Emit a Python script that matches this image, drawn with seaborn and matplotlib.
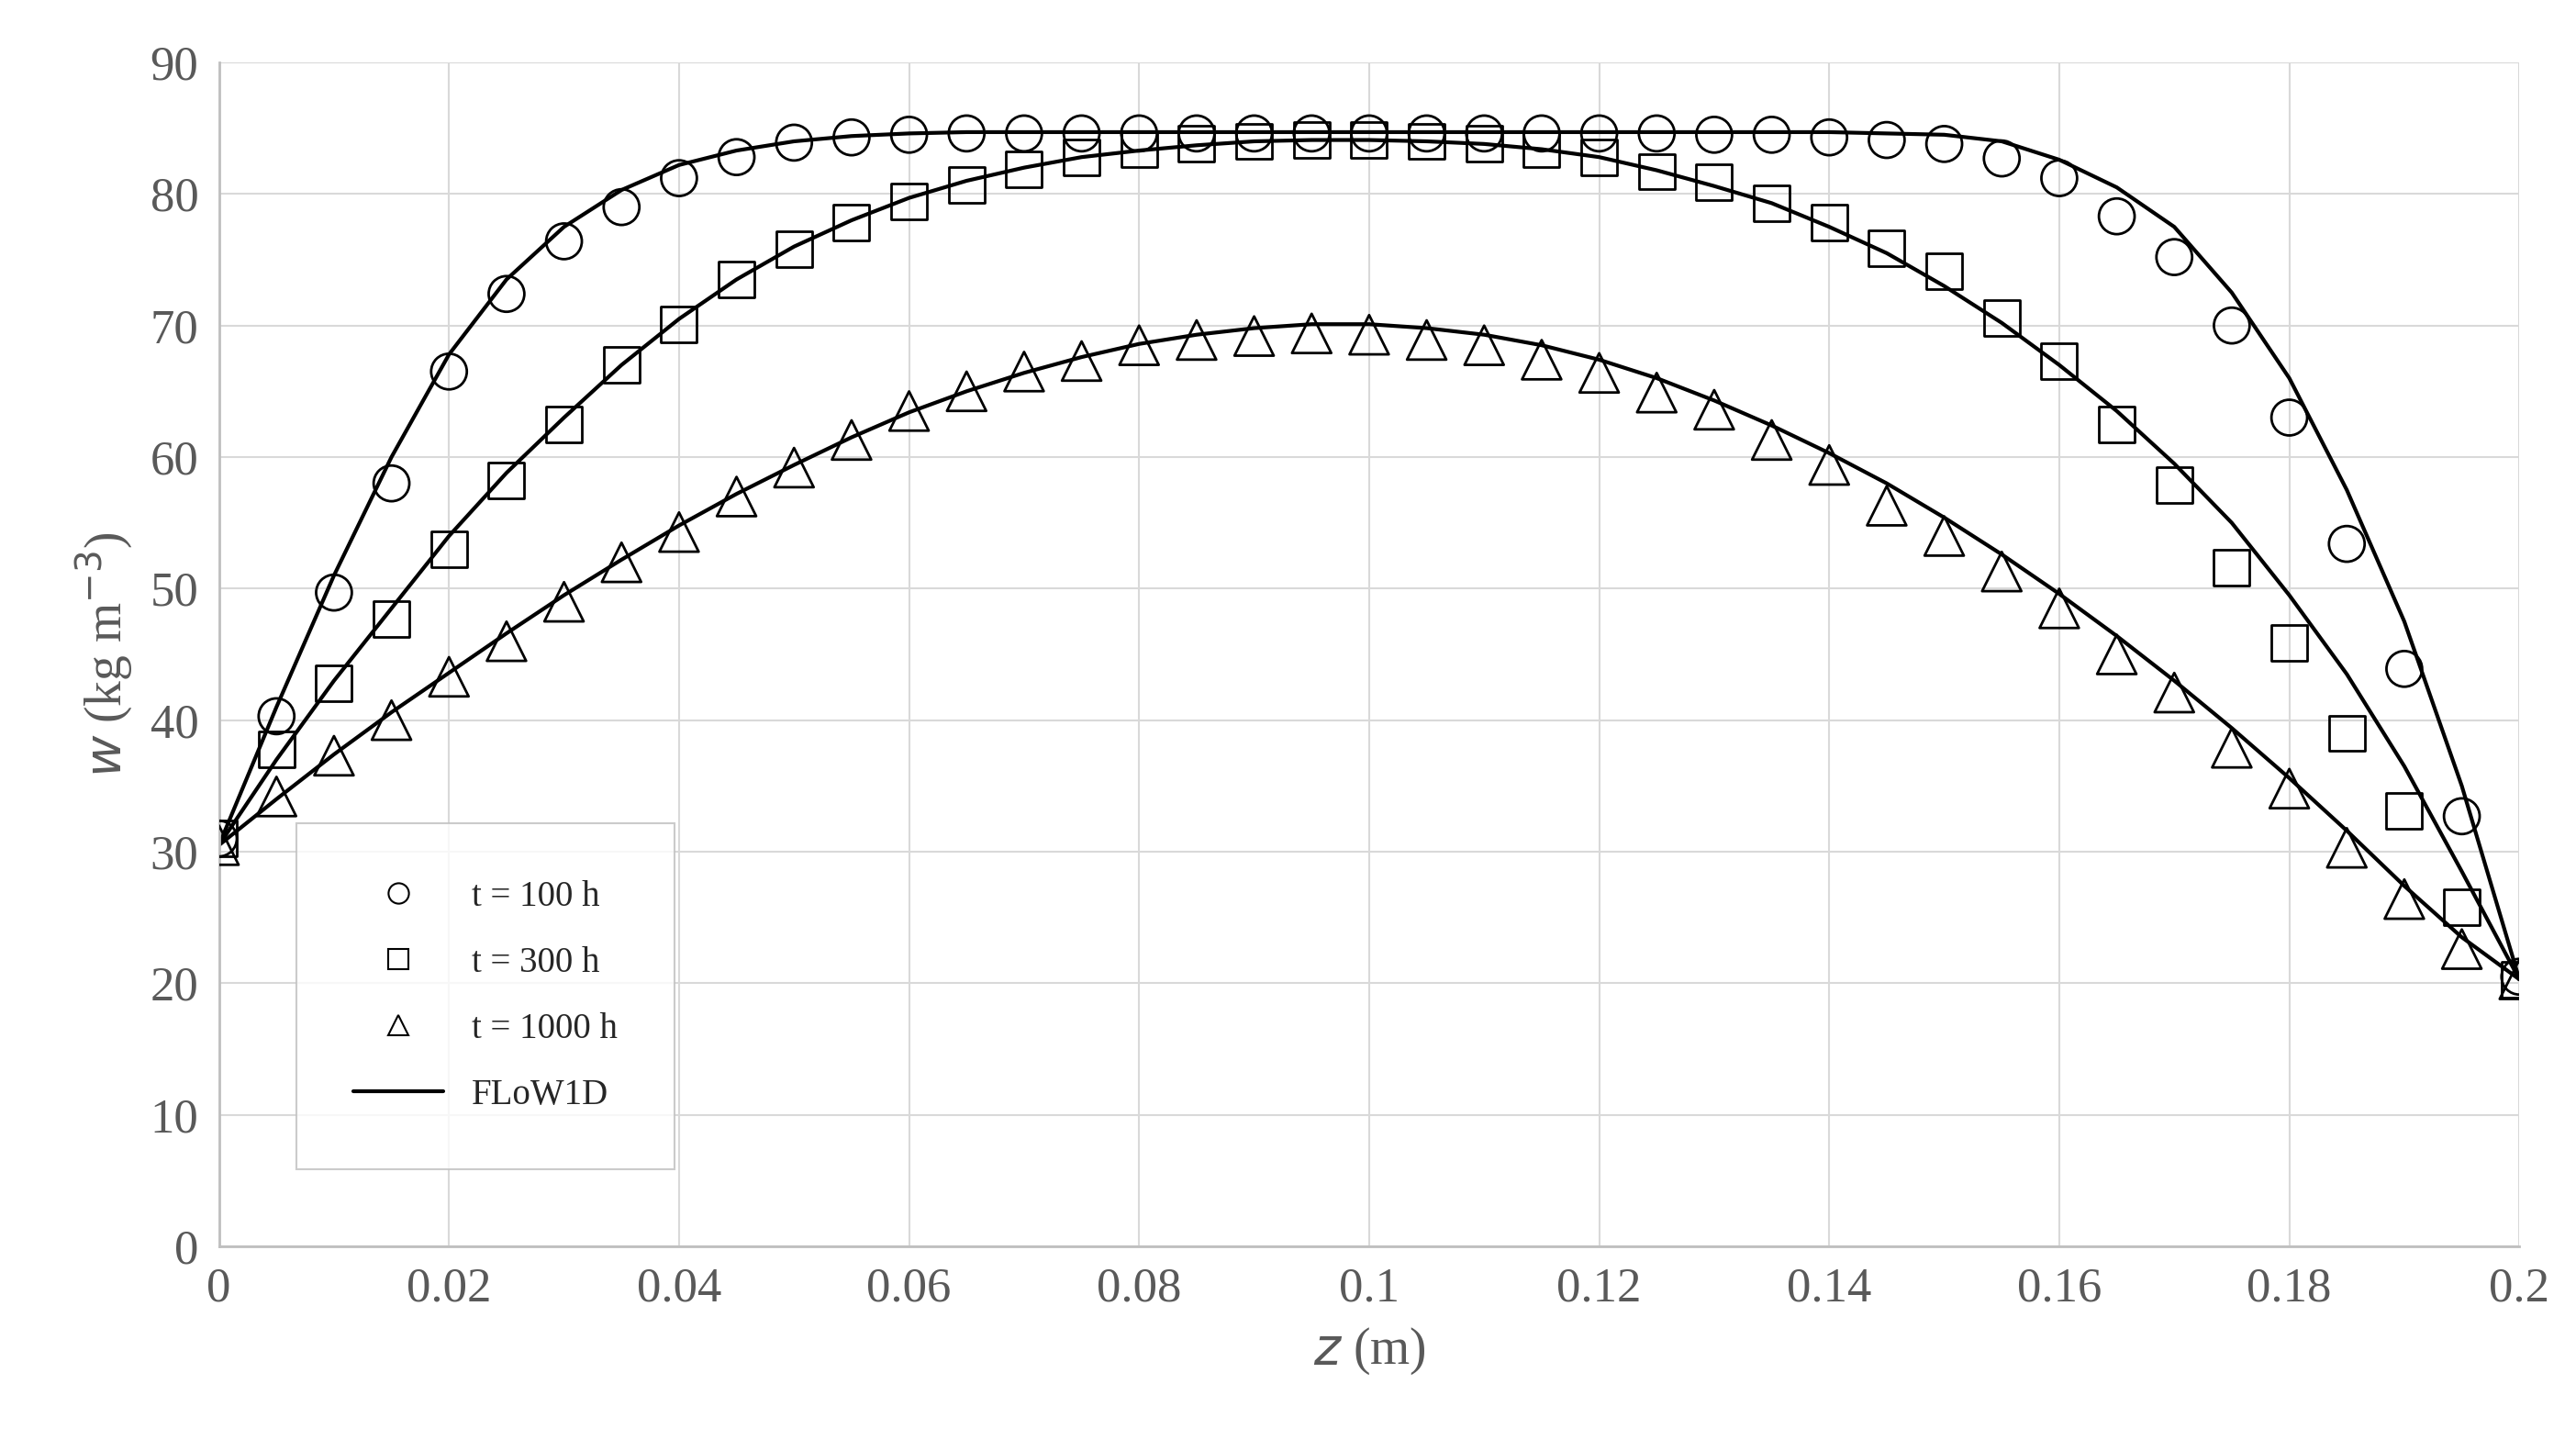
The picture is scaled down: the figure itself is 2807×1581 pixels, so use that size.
import matplotlib
matplotlib.use("Agg")
import matplotlib.pyplot as plt
import seaborn as sns
import numpy as np
import pandas as pd

z_pts = [round(0.005*i, 3) for i in range(41)]
w_100 = [31, 40.3, 49.7, 58, 66.5, 72.4, 76.4, 79, 81.2, 82.8, 83.9, 84.3, 84.5, 84.6, 84.6, 84.6, 84.6, 84.6, 84.6, 84.6,
         84.6, 84.6, 84.6, 84.6, 84.6, 84.6, 84.5, 84.5, 84.3, 84.1, 83.8, 82.7, 81.2, 78.3, 75.2, 70, 63, 53.4, 43.9, 32.7, 20.5]
w_300 = [31, 37.8, 42.8, 47.7, 53, 58.2, 62.5, 67, 70.1, 73.5, 75.8, 77.8, 79.4, 80.7, 81.9, 82.8, 83.4, 83.8, 84, 84.1,
         84.1, 84, 83.8, 83.4, 82.8, 81.7, 80.9, 79.3, 77.8, 75.9, 74.1, 70.6, 67.3, 62.5, 57.9, 51.6, 45.9, 39, 33.1, 25.8, 20.3]
w_1000 = [30.5, 34.2, 37.3, 40, 43.3, 46, 49, 52, 54.3, 57, 59.2, 61.3, 63.5, 65, 66.5, 67.3, 68.5, 68.9, 69.2, 69.4,
          69.3, 68.9, 68.5, 67.4, 66.4, 64.9, 63.6, 61.3, 59.4, 56.3, 54, 51.3, 48.5, 45, 42.1, 37.9, 34.8, 30.3, 26.4, 22.6, 20.3]

line_100 = [30.5, 41, 51, 60, 67.8, 73.5, 77.5, 80.3, 82.2, 83.3, 84, 84.4, 84.6, 84.7, 84.7, 84.7, 84.7, 84.7, 84.7, 84.7,
            84.7, 84.7, 84.7, 84.7, 84.7, 84.7, 84.7, 84.7, 84.7, 84.6, 84.5, 84.0, 82.6, 80.5, 77.5, 72.5, 66, 57.5, 47.5, 35, 20.3]
line_300 = [30.5, 37, 43, 48.5, 54, 58.8, 63, 67, 70.5, 73.5, 76, 78, 79.7, 81, 82, 82.8, 83.3, 83.7, 84, 84.1,
            84.1, 84, 83.8, 83.4, 82.8, 81.8, 80.6, 79.3, 77.5, 75.5, 73, 70.2, 67, 63.5, 59.5, 55, 49.5, 43.5, 36.5, 28.5, 20.3]
line_1000 = [30.5, 34, 37.4, 40.6, 43.6, 46.6, 49.5, 52.2, 54.8, 57.2, 59.4, 61.5, 63.4, 65, 66.4, 67.6, 68.6, 69.3, 69.8, 70.1,
             70.1, 69.8, 69.3, 68.5, 67.4, 66, 64.3, 62.4, 60.3, 58, 55.4, 52.6, 49.6, 46.4, 43, 39.4, 35.6, 31.6, 27.4, 23.5, 20.3]

sns.set_theme(style="whitegrid")
plt.rcParams['font.family'] = ['Liberation Serif', 'DejaVu Serif']

fig = plt.figure(figsize=(28.07, 15.81), dpi=100)
ax = fig.add_axes([0.085, 0.141, 0.893, 0.816])

for lw in [line_100, line_300, line_1000]:
    sns.lineplot(x=z_pts, y=lw, ax=ax, color='black', lw=3, label=None)
ms = 28
sns.scatterplot(x=z_pts, y=w_100, ax=ax, marker='o', s=ms**2, facecolor='none', edgecolor='black', linewidth=2, zorder=5)
sns.scatterplot(x=z_pts, y=w_300, ax=ax, marker='s', s=ms**2, facecolor='none', edgecolor='black', linewidth=2, zorder=5)
sns.scatterplot(x=z_pts, y=w_1000, ax=ax, marker='^', s=(ms*1.1)**2, facecolor='none', edgecolor='black', linewidth=2, zorder=5)

from matplotlib.lines import Line2D
handles = [Line2D([], [], marker='o', ls='none', mfc='none', mec='black', ms=16, mew=1.5),
           Line2D([], [], marker='s', ls='none', mfc='none', mec='black', ms=16, mew=1.5),
           Line2D([], [], marker='^', ls='none', mfc='none', mec='black', ms=16, mew=1.5),
           Line2D([], [], color='black', lw=3)]
labels = ['t = 100 h', 't = 300 h', 't = 1000 h', 'FLoW1D']
leg = ax.legend(handles, labels, loc='lower left', bbox_to_anchor=(0.026, 0.05), fontsize=28,
                frameon=True, fancybox=False, edgecolor='#bfbfbf', borderpad=1.6, labelspacing=0.9,
                handlelength=2.5, handletextpad=0.8)
leg.get_frame().set_linewidth(1.5)

ax.set_xlim(0, 0.2)
ax.set_ylim(0, 90)
ax.set_xticks(np.arange(0, 0.2001, 0.02))
ax.set_xticklabels(['0', '0.02', '0.04', '0.06', '0.08', '0.1', '0.12', '0.14', '0.16', '0.18', '0.2'])
ax.set_yticks(range(0, 91, 10))
ax.tick_params(labelsize=38, colors='#595959', pad=10)
ax.set_xlabel(r'$z$ (m)', fontsize=40, color='#595959', labelpad=12)
ax.set_ylabel(r'$w$ (kg m$^{-3}$)', fontsize=40, color='#595959', labelpad=12)
ax.grid(True, color='#d9d9d9', lw=1.5)
ax.set_facecolor('white')
for s in ['top', 'right']:
    ax.spines[s].set_visible(False)
for s in ['left', 'bottom']:
    ax.spines[s].set_color('#bfbfbf')
    ax.spines[s].set_linewidth(2)
plt.rcParams['mathtext.fontset'] = 'stix'
fig.savefig('out.png', dpi=100)
